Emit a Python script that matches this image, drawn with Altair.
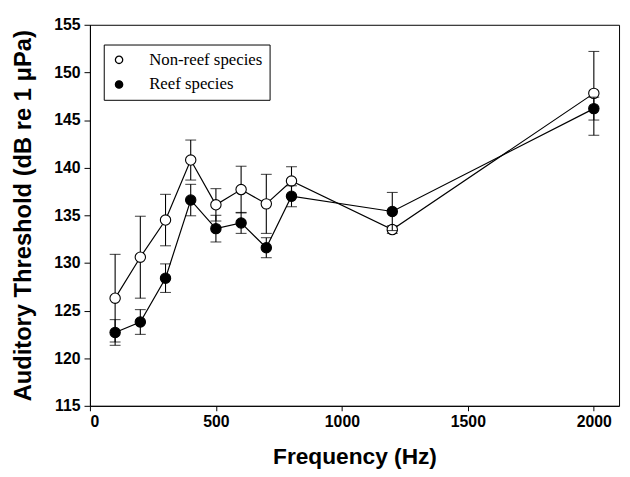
import altair as alt
import pandas as pd

freq = [100, 200, 300, 400, 500, 600, 700, 800, 1200, 2000]
nonreef = [126.3, 130.6, 134.5, 140.8, 136.1, 137.7, 136.2, 138.6, 133.5, 147.8]
nonreef_err = [4.6, 4.3, 2.7, 2.1, 1.7, 2.45, 3.1, 1.5, 0.4, 4.4]
reef = [122.7, 123.8, 128.4, 136.6, 133.6, 134.2, 131.6, 137.0, 135.4, 146.2]
reef_err = [1.35, 1.3, 1.5, 1.65, 1.4, 1.1, 1.05, 1.1, 2.0, 1.2]
series_names = ["Non-reef species", "Reef species"]
x_ticks = [0, 500, 1000, 1500, 2000]
y_ticks = [115, 120, 125, 130, 135, 140, 145, 150, 155]

rows = []
for name, vals, errs in [(series_names[0], nonreef, nonreef_err), (series_names[1], reef, reef_err)]:
    for f, v, e in zip(freq, vals, errs):
        rows.append({"freq": f, "thr": v, "lo": v - e, "hi": v + e, "series": name})
df = pd.DataFrame(rows)

x = alt.X("freq:Q", scale=alt.Scale(domain=[0, 2100], nice=False),
          axis=alt.Axis(values=x_ticks, format="d", title="Frequency (Hz)", grid=False))
y = alt.Y("thr:Q", scale=alt.Scale(domain=[115, 155], nice=False, zero=False),
          axis=alt.Axis(values=y_ticks, format="d", title="Auditory Threshold (dB re 1 μPa)", grid=False))

base = alt.Chart(df)

lines = base.mark_line(color="black", strokeWidth=1.2).encode(
    x=x, y=y, detail="series:N")

def layer_for(name):
    sub = base.transform_filter(alt.datum.series == name)
    rule = sub.mark_rule(color="black", strokeWidth=1.1).encode(
        x="freq:Q", y="lo:Q", y2="hi:Q")
    cap_lo = sub.mark_tick(color="black", thickness=1.1, size=11, orient="horizontal").encode(
        x="freq:Q", y="lo:Q")
    cap_hi = sub.mark_tick(color="black", thickness=1.1, size=11, orient="horizontal").encode(
        x="freq:Q", y="hi:Q")
    pts = sub.mark_point(filled=True, stroke="black", strokeWidth=1.1, size=110, opacity=1).encode(
        x="freq:Q", y="thr:Q",
        fill=alt.Fill("series:N",
                      scale=alt.Scale(domain=series_names, range=["white", "black"]),
                      legend=alt.Legend(title=None, orient="none", legendX=14, legendY=20,
                                        strokeColor="black", padding=7, fillColor="white",
                                        symbolSize=55, symbolStrokeColor="black",
                                        symbolStrokeWidth=1.3, labelFont="Liberation Serif",
                                        labelFontSize=17, labelColor="black",
                                        labelOffset=22, rowPadding=7, symbolType="circle")))
    return [rule, cap_lo, cap_hi, pts]

layers = [lines] + layer_for(series_names[0]) + layer_for(series_names[1])

chart = alt.layer(*layers).properties(
    width=536, height=386,
    autosize=alt.AutoSizeParams(type="none"),
    padding={"left": 83, "top": 14, "right": 3, "bottom": 61},
).configure_view(stroke="black", strokeWidth=1).configure_axis(
    domainColor="black", tickColor="black", labelColor="black", titleColor="black",
    labelFont="Liberation Sans", labelFontWeight="bold", labelFontSize=16,
    titleFont="Liberation Sans", titleFontWeight="bold", titleFontSize=23,
).configure_axisX(tickSize=5, labelPadding=3, titlePadding=16
).configure_axisY(tickSize=6, labelPadding=4, titlePadding=18, titleFontSize=24)

chart.save("out.html", embed_options={"renderer": "svg", "actions": False})
